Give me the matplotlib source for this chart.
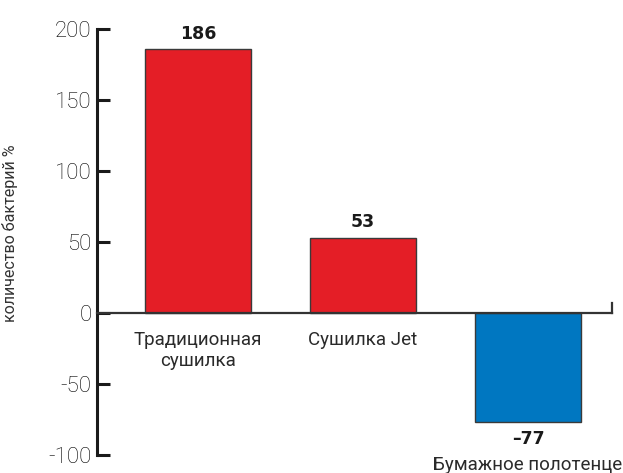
import matplotlib.pyplot as plt

categories = ["Традиционная\nсушилка", "Сушилка Jet", "Бумажное полотенце"]
values = [186, 53, -77]
value_labels = ["186", "53", "–77"]
colors = ["#E41E26", "#E41E26", "#0077C1"]
yticks = [-100, -50, 0, 50, 100, 150, 200]

plt.rcParams['font.family'] = ['Roboto', 'DejaVu Sans']

fig = plt.figure(figsize=(6.23, 4.73), dpi=100)
ax = fig.add_axes([97/623, 18/473, 515/623, 426/473])

x = list(range(len(values)))
bars = ax.bar(x, values, width=0.64, color=colors, edgecolor="#3a3a3a", linewidth=1, zorder=2)

ax.set_xlim(-0.612, 2.509)
ax.set_ylim(-100, 200)

for sp in ["top", "right"]:
    ax.spines[sp].set_visible(False)
ax.spines["left"].set_linewidth(2.2)
ax.spines["left"].set_color("#1a1a1a")
ax.spines["bottom"].set_position(("data", 0))
ax.spines["bottom"].set_linewidth(1.6)
ax.spines["bottom"].set_color("#333333")
ax.spines["bottom"].set_zorder(3)

# small end tick at the right of the x axis
ax.plot([2.509, 2.509], [0, 7], color="#333333", lw=1.6, clip_on=False, zorder=3)

ax.set_xticks([])
ax.set_yticks(yticks)
ax.set_yticklabels([str(t) for t in yticks], fontsize=16, fontweight="light", color="#000000")
ax.tick_params(axis="y", direction="in", length=9, width=2.2, color="#1a1a1a", pad=4)

ax.set_ylabel("количество бактерий %", fontsize=11.5, color="#333333")
ax.yaxis.set_label_coords(-0.153, 0.52)

for xi, v, lab, cat in zip(x, values, value_labels, categories):
    off = 11 if v > 0 else -12
    ax.annotate(lab, (xi, v), xytext=(0, off), textcoords="offset points",
                ha="center", va="center", fontsize=12.5, fontweight="bold",
                family="DejaVu Sans", color="#1a1a1a")
    if v > 0:
        ax.text(xi, -13, cat, ha="center", va="top", fontsize=13.5,
                linespacing=1.15, color="#2a2a2a")
    else:
        ax.text(xi, -107, cat, ha="center", va="center", fontsize=13.5,
                color="#2a2a2a", clip_on=False)

fig.savefig("out.png", dpi=100)
